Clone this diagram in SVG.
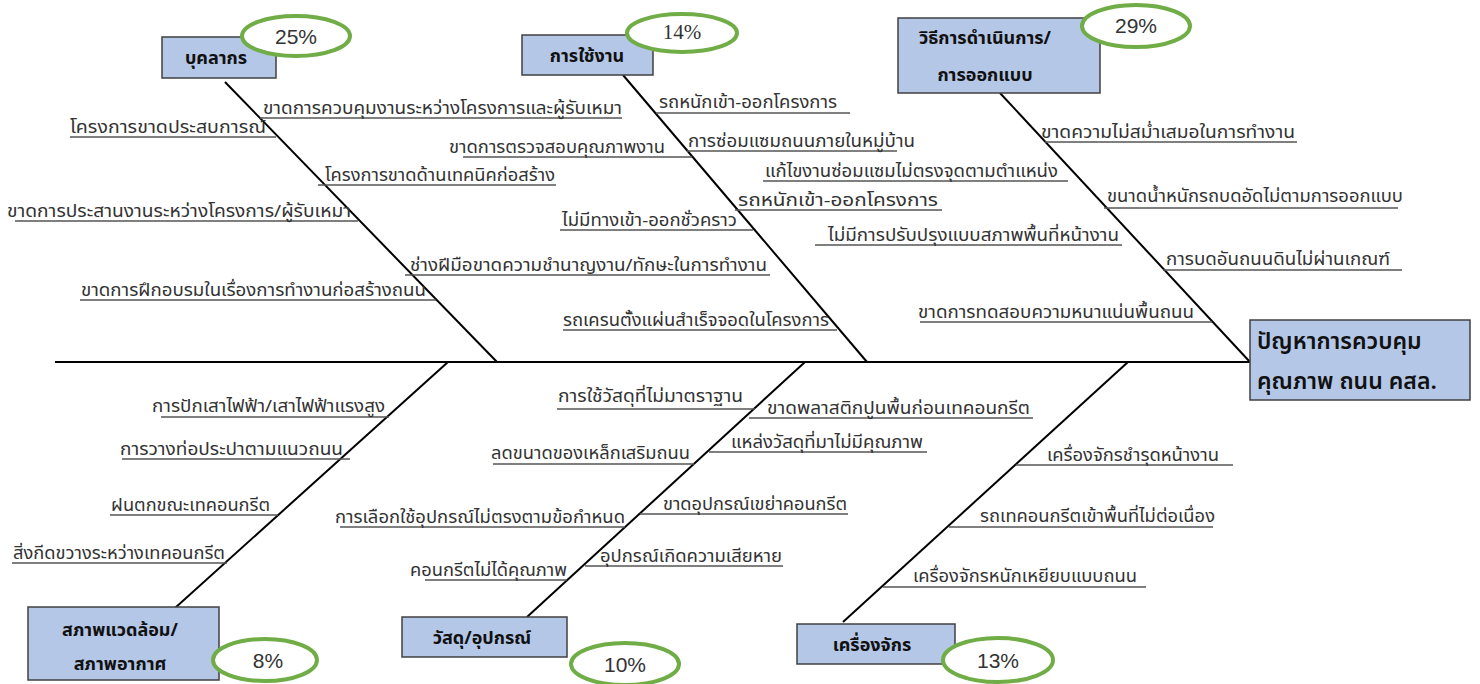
<svg xmlns="http://www.w3.org/2000/svg" width="1480" height="684" viewBox="0 0 1480 684">
<style>
.bg{fill:#fff}
.box{fill:#b4c7e7;stroke:#404040;stroke-width:1.5}
.cat{font-family:"Noto Sans Thai","Tahoma","Noto Sans",sans-serif;font-size:18px;font-weight:bold;fill:#111;text-anchor:middle}
.eff{font-family:"Noto Sans Thai","Tahoma","Noto Sans",sans-serif;font-size:23px;font-weight:600;fill:#111}
.pct{fill:#fff;stroke:#70ad47;stroke-width:4}
.pt{font-family:"Liberation Sans","Noto Sans",sans-serif;font-size:21px;fill:#333;text-anchor:middle}
.ps{font-family:"Liberation Serif",serif;font-size:21px;fill:#333;text-anchor:middle}
.bone{stroke:#000;stroke-width:2;fill:none}
.ul{stroke:#555;stroke-width:1.5;fill:none}
.lb{font-family:"Noto Sans Thai","Tahoma","Noto Sans",sans-serif;font-size:17px;fill:#333}
</style>
<rect class="bg" x="0" y="0" width="1480" height="684"/>
<g id="connectors">
<line class="bone" x1="55" y1="362" x2="1250" y2="362"/>
<line class="bone" x1="225" y1="82" x2="497" y2="362"/>
<line class="bone" x1="623" y1="75" x2="867" y2="362"/>
<line class="bone" x1="1000" y1="93" x2="1250" y2="362"/>
<line class="bone" x1="175" y1="608" x2="448" y2="362"/>
<line class="bone" x1="527" y1="617" x2="805" y2="362"/>
<line class="bone" x1="843" y1="622" x2="1128" y2="362"/>
</g>
<g id="causes">
<line class="ul" x1="260" y1="118" x2="622" y2="118"/><text class="lb" x="263" y="114" textLength="359" lengthAdjust="spacingAndGlyphs">ขาดการควบคุมงานระหว่างโครงการและผู้รับเหมา</text>
<line class="ul" x1="70" y1="137" x2="276" y2="137"/><text class="lb" x="70" y="133" textLength="196" lengthAdjust="spacingAndGlyphs">โครงการขาดประสบการณ์</text>
<line class="ul" x1="318" y1="185" x2="556" y2="185"/><text class="lb" x="325" y="181" textLength="230" lengthAdjust="spacingAndGlyphs">โครงการขาดด้านเทคนิคก่อสร้าง</text>
<line class="ul" x1="15" y1="221" x2="358" y2="221"/><text class="lb" x="7" y="217" textLength="344" lengthAdjust="spacingAndGlyphs">ขาดการประสานงานระหว่างโครงการ/ผู้รับเหมา</text>
<line class="ul" x1="405" y1="275" x2="770" y2="275"/><text class="lb" x="410" y="271" textLength="357" lengthAdjust="spacingAndGlyphs">ช่างฝีมือขาดความชำนาญงาน/ทักษะในการทำงาน</text>
<line class="ul" x1="80" y1="300" x2="436" y2="300"/><text class="lb" x="81" y="296" textLength="345" lengthAdjust="spacingAndGlyphs">ขาดการฝึกอบรมในเรื่องการทำงานก่อสร้างถนน</text>
<line class="ul" x1="656" y1="113" x2="850" y2="113"/><text class="lb" x="659" y="108" textLength="178" lengthAdjust="spacingAndGlyphs">รถหนักเข้า-ออกโครงการ</text>
<line class="ul" x1="687" y1="151" x2="897" y2="151"/><text class="lb" x="688" y="147" textLength="227" lengthAdjust="spacingAndGlyphs">การซ่อมแซมถนนภายในหมู่บ้าน</text>
<line class="ul" x1="463" y1="157" x2="692" y2="157"/><text class="lb" x="449" y="153" textLength="216" lengthAdjust="spacingAndGlyphs">ขาดการตรวจสอบคุณภาพงาน</text>
<line class="ul" x1="763" y1="181" x2="1068" y2="181"/><text class="lb" x="765" y="177" textLength="293" lengthAdjust="spacingAndGlyphs">แก้ไขงานซ่อมแซมไม่ตรงจุดตามตำแหน่ง</text>
<line class="ul" x1="735" y1="210" x2="942" y2="210"/><text class="lb" x="738" y="206" textLength="200" lengthAdjust="spacingAndGlyphs">รถหนักเข้า-ออกโครงการ</text>
<line class="ul" x1="560" y1="230" x2="753" y2="230"/><text class="lb" x="562" y="226" textLength="175" lengthAdjust="spacingAndGlyphs">ไม่มีทางเข้า-ออกชั่วคราว</text>
<line class="ul" x1="815" y1="245" x2="1122" y2="245"/><text class="lb" x="828" y="241" textLength="291" lengthAdjust="spacingAndGlyphs">ไม่มีการปรับปรุงแบบสภาพพื้นที่หน้างาน</text>
<line class="ul" x1="563" y1="330" x2="837" y2="330"/><text class="lb" x="563" y="326" textLength="266" lengthAdjust="spacingAndGlyphs">รถเครนตั้งแผ่นสำเร็จจอดในโครงการ</text>
<line class="ul" x1="1045" y1="142" x2="1297" y2="142"/><text class="lb" x="1041" y="138" textLength="254" lengthAdjust="spacingAndGlyphs">ขาดความไม่สม่ำเสมอในการทำงาน</text>
<line class="ul" x1="1104" y1="208" x2="1398" y2="208"/><text class="lb" x="1107" y="202" textLength="296" lengthAdjust="spacingAndGlyphs">ขนาดน้ำหนักรถบดอัดไม่ตามการออกแบบ</text>
<line class="ul" x1="1163" y1="270" x2="1402" y2="270"/><text class="lb" x="1166" y="265" textLength="224" lengthAdjust="spacingAndGlyphs">การบดอันถนนดินไม่ผ่านเกณฑ์</text>
<line class="ul" x1="920" y1="322" x2="1212" y2="322"/><text class="lb" x="918" y="318" textLength="276" lengthAdjust="spacingAndGlyphs">ขาดการทดสอบความหนาแน่นพื้นถนน</text>
<line class="ul" x1="161" y1="417" x2="389" y2="417"/><text class="lb" x="152" y="412" textLength="233" lengthAdjust="spacingAndGlyphs">การปักเสาไฟฟ้า/เสาไฟฟ้าแรงสูง</text>
<line class="ul" x1="122" y1="459" x2="350" y2="459"/><text class="lb" x="120" y="455" textLength="223" lengthAdjust="spacingAndGlyphs">การวางท่อประปาตามแนวถนน</text>
<line class="ul" x1="110" y1="515" x2="278" y2="515"/><text class="lb" x="111" y="511" textLength="159" lengthAdjust="spacingAndGlyphs">ฝนตกขณะเทคอนกรีต</text>
<line class="ul" x1="12" y1="563" x2="227" y2="563"/><text class="lb" x="13" y="559" textLength="212" lengthAdjust="spacingAndGlyphs">สิ่งกีดขวางระหว่างเทคอนกรีต</text>
<line class="ul" x1="557" y1="409" x2="755" y2="409"/><text class="lb" x="558" y="402" textLength="185" lengthAdjust="spacingAndGlyphs">การใช้วัสดุที่ไม่มาตราฐาน</text>
<line class="ul" x1="749" y1="418" x2="1033" y2="418"/><text class="lb" x="767" y="414" textLength="263" lengthAdjust="spacingAndGlyphs">ขาดพลาสติกปูนพื้นก่อนเทคอนกรีต</text>
<line class="ul" x1="493" y1="464" x2="694" y2="464"/><text class="lb" x="491" y="459" textLength="199" lengthAdjust="spacingAndGlyphs">ลดขนาดของเหล็กเสริมถนน</text>
<line class="ul" x1="709" y1="452" x2="927" y2="452"/><text class="lb" x="731" y="448" textLength="192" lengthAdjust="spacingAndGlyphs">แหล่งวัสดุที่มาไม่มีคุณภาพ</text>
<line class="ul" x1="340" y1="527" x2="625" y2="527"/><text class="lb" x="335" y="523" textLength="290" lengthAdjust="spacingAndGlyphs">การเลือกใช้อุปกรณ์ไม่ตรงตามข้อกำหนด</text>
<line class="ul" x1="640" y1="514" x2="848" y2="514"/><text class="lb" x="663" y="510" textLength="184" lengthAdjust="spacingAndGlyphs">ขาดอุปกรณ์เขย่าคอนกรีต</text>
<line class="ul" x1="425" y1="580" x2="567" y2="580"/><text class="lb" x="410" y="576" textLength="157" lengthAdjust="spacingAndGlyphs">คอนกรีตไม่ได้คุณภาพ</text>
<line class="ul" x1="585" y1="566" x2="783" y2="566"/><text class="lb" x="600" y="562" textLength="182" lengthAdjust="spacingAndGlyphs">อุปกรณ์เกิดความเสียหาย</text>
<line class="ul" x1="1016" y1="465" x2="1233" y2="465"/><text class="lb" x="1047" y="461" textLength="172" lengthAdjust="spacingAndGlyphs">เครื่องจักรชำรุดหน้างาน</text>
<line class="ul" x1="949" y1="527" x2="1213" y2="527"/><text class="lb" x="980" y="522" textLength="235" lengthAdjust="spacingAndGlyphs">รถเทคอนกรีตเข้าพื้นที่ไม่ต่อเนื่อง</text>
<line class="ul" x1="883" y1="587" x2="1146" y2="587"/><text class="lb" x="913" y="582" textLength="224" lengthAdjust="spacingAndGlyphs">เครื่องจักรหนักเหยียบแบบถนน</text>
</g>
<g id="effect">
<rect class="box" x="1250" y="320" width="220" height="80"/>
<text class="eff" x="1257" y="349">ปัญหาการควบคุม</text>
<text class="eff" x="1257" y="389">คุณภาพ ถนน คสล.</text>
</g>
<g id="cat-people">
<rect class="box" x="162" y="37" width="114" height="41"/>
<text class="cat" x="216" y="64">บุคลากร</text>
<ellipse class="pct" cx="296" cy="36" rx="54" ry="20"/>
<text class="pt" x="296" y="44">25%</text>
</g>
<g id="cat-usage">
<rect class="box" x="522" y="35" width="131" height="40"/>
<text class="cat" x="587" y="62">การใช้งาน</text>
<ellipse class="pct" cx="682" cy="33" rx="55" ry="19"/>
<text class="ps" x="682" y="39">14%</text>
</g>
<g id="cat-method">
<rect class="box" x="898" y="18" width="202" height="75"/>
<text class="cat" x="985" y="44">วิธีการดำเนินการ/</text>
<text class="cat" x="985" y="81">การออกแบบ</text>
<ellipse class="pct" cx="1136" cy="26" rx="54" ry="21"/>
<text class="pt" x="1136" y="33">29%</text>
</g>
<g id="cat-env">
<rect class="box" x="28" y="607" width="191" height="73"/>
<text class="cat" x="120" y="636">สภาพแวดล้อม/</text>
<text class="cat" x="120" y="670">สภาพอากาศ</text>
<ellipse class="pct" cx="265" cy="660" rx="52" ry="21"/>
<text class="pt" x="268" y="668">8%</text>
</g>
<g id="cat-material">
<rect class="box" x="402" y="617" width="165" height="40"/>
<text class="cat" x="482" y="644">วัสดุ/อุปกรณ์</text>
<ellipse class="pct" cx="625" cy="664" rx="54" ry="21"/>
<text class="pt" x="625" y="672">10%</text>
</g>
<g id="cat-machine">
<rect class="box" x="797" y="624" width="158" height="40"/>
<text class="cat" x="872" y="651">เครื่องจักร</text>
<ellipse class="pct" cx="998" cy="660" rx="55" ry="22"/>
<text class="pt" x="998" y="668">13%</text>
</g>
</svg>
